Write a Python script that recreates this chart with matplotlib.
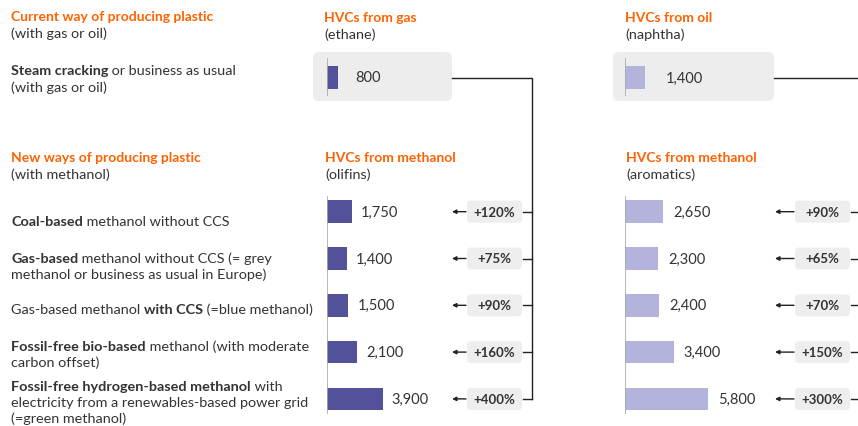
import matplotlib
matplotlib.use("Agg")
import matplotlib.pyplot as plt
from matplotlib.patches import FancyBboxPatch

# ------------------------ DATA ------------------------
gas_value = [800]
oil_value = [1400]
olefin_values = [1750, 1400, 1500, 2100, 3900]
aromatic_values = [2650, 2300, 2400, 3400, 5800]
olefin_change = ["+120%", "+75%", "+90%", "+160%", "+400%"]
aromatic_change = ["+90%", "+65%", "+70%", "+150%", "+300%"]

# each row: list of lines, each line: list of (text, bold)
row_labels = [
    [[("Coal-based", True), (" methanol without CCS", False)]],
    [[("Gas-based", True), (" methanol without CCS (= grey", False)],
     [("methanol or business as usual in Europe)", False)]],
    [[("Gas-based methanol ", False), ("with CCS", True), (" (=blue methanol)", False)]],
    [[("Fossil-free bio-based", True), (" methanol (with moderate", False)],
     [("carbon offset)", False)]],
    [[("Fossil-free hydrogen-based methanol", True), (" with", False)],
     [("electricity from a renewables-based power grid", False)],
     [("(=green methanol)", False)]],
]

# ------------------------ STYLE ------------------------
W, H = 858, 427
ORANGE = "#FF6200"
TXT = "#333333"
DARK = "#525199"
LIGHT = "#B4B3DB"
BOXG = "#EDEDED"
AXG = "#AAAAAA"
PX_PER_UNIT = 0.0143  # pixels per tonne

plt.rcParams["font.family"] = ["Lato", "DejaVu Sans"]

fig = plt.figure(figsize=(W / 100, H / 100), dpi=100)
ax = fig.add_axes([0, 0, 1, 1], zorder=0)
ax.set_xlim(0, W)
ax.set_ylim(H, 0)
ax.axis("off")

FS_T = 10
FS = 10.4
FS_V = 10.5


def rich_line(x, y, parts, size=FS):
    prev = None
    for txt, bold in parts:
        w = "bold" if bold else "normal"
        if prev is None:
            prev = ax.text(x, y, txt, fontsize=size, fontweight=w, color=TXT,
                           ha="left", va="center")
        else:
            prev = ax.annotate(txt, xy=(1, 0), xycoords=prev, fontsize=size,
                               fontweight=w, color=TXT, ha="left", va="bottom")


def header(x, y, title, sub):
    ax.text(x, y, title, fontsize=FS_T, fontweight="bold", color=ORANGE,
            ha="left", va="center")
    ax.text(x, y + 17, sub, fontsize=FS, color=TXT, ha="left", va="center")


def bar_axes(x0, y0, y1, width_px, first_center, step):
    a = fig.add_axes([x0 / W, 1 - y1 / H, width_px / W, (y1 - y0) / H], zorder=2)
    a.patch.set_alpha(0)
    a.set_xlim(0, width_px / PX_PER_UNIT)
    a.set_ylim((y1 - first_center) / step, (y0 - first_center) / step)
    for s in a.spines.values():
        s.set_visible(False)
    a.set_xticks([])
    a.set_yticks([])
    a.axvline(0, color=AXG, lw=1.2)
    return a


def draw_bars(a, values, color, off):
    idx = list(range(len(values)))
    a.barh(idx, values, height=0.48, color=color)
    for i, v in zip(idx, values):
        a.annotate(f"{v:,}", xy=(v, i), xytext=(off, 0), textcoords="offset pixels",
                   fontsize=FS_V, color=TXT, ha="left", va="center",
                   annotation_clip=False)


# ------------------------ LEFT TEXT ------------------------
header(11, 17, "Current way of producing plastic", "(with gas or oil)")
rich_line(11, 71, [("Steam cracking", True), (" or business as usual", False)])
ax.text(11, 88, "(with gas or oil)", fontsize=FS, color=TXT, ha="left", va="center")
header(11, 158, "New ways of producing plastic", "(with methanol)")

row_y = [222, 259, 310, 347, 387]
for y, lines in zip(row_y, row_labels):
    for k, parts in enumerate(lines):
        rich_line(11, y + 16 * k, parts)

# ------------------------ PANELS ------------------------
ROW0, STEP = 212.7, 46.8
TOP_Y = 78.5

header(324, 18, "HVCs from gas", "(ethane)")
header(325, 158, "HVCs from methanol", "(olifins)")
header(625, 18, "HVCs from oil", "(naphtha)")
header(626, 158, "HVCs from methanol", "(aromatics)")

for x0, x1 in [(313, 452), (613, 774)]:
    ax.add_patch(FancyBboxPatch((x0, 53), x1 - x0, 49,
                                boxstyle="round,pad=0,rounding_size=6",
                                facecolor=BOXG, edgecolor="none", zorder=1))

a = bar_axes(327, 59, 97, 110, TOP_Y, STEP)
draw_bars(a, gas_value, DARK, 17)
a = bar_axes(625, 59, 97, 140, TOP_Y, STEP)
draw_bars(a, oil_value, LIGHT, 21)
a = bar_axes(327, 197, 415, 110, ROW0, STEP)
draw_bars(a, olefin_values, DARK, 9)
a = bar_axes(625, 197, 415, 140, ROW0, STEP)
draw_bars(a, aromatic_values, LIGHT, 10)

# ------------------------ CHANGE BOXES + CONNECTORS ------------------------
LC = "#222222"


def change_col(bx0, bx1, labels, arrow_to, line_to):
    for i, lab in enumerate(labels):
        y = ROW0 + STEP * i
        ax.add_patch(FancyBboxPatch((bx0, y - 11), bx1 - bx0, 22,
                                    boxstyle="round,pad=0,rounding_size=4",
                                    facecolor="#EEEEEE", edgecolor="none", zorder=1))
        ax.text((bx0 + bx1) / 2, y, lab, fontsize=9.5, fontweight="bold", color=TXT,
                ha="center", va="center", zorder=3)
        ax.annotate("", xy=(arrow_to, y), xytext=(bx0 - 1, y),
                    arrowprops=dict(arrowstyle="-|>", color=LC, lw=1,
                                    mutation_scale=6, shrinkA=0, shrinkB=0))
        ax.plot([bx1 + 1, line_to], [y, y], color=LC, lw=1)


change_col(467, 522, olefin_change, 452, 532)
change_col(795, 850, aromatic_change, 775, 858)

ax.plot([452, 532, 532], [TOP_Y, TOP_Y, ROW0 + STEP * 4], color=LC, lw=1)
ax.plot([774, 858], [TOP_Y, TOP_Y], color=LC, lw=1)

fig.savefig("out.png", dpi=100, facecolor="white")
